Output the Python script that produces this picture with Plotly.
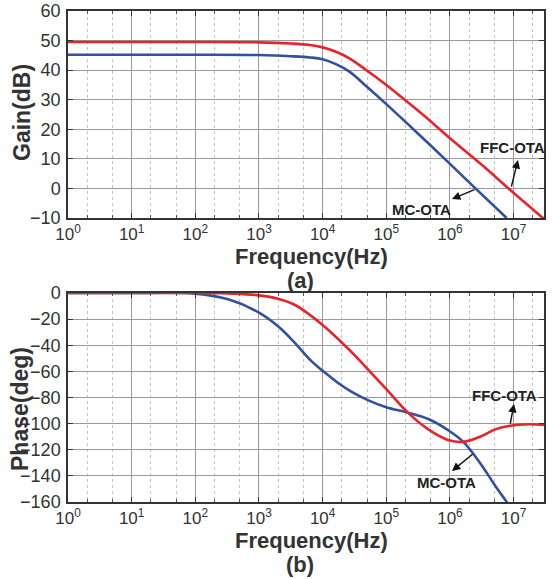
import plotly.graph_objects as go
from plotly.subplots import make_subplots

# ---- data (log10 frequency) ----
gain_mc_logf = [0, 1, 2, 3, 3.5, 3.8, 4.0, 4.2, 4.42, 4.7, 5.0, 5.5, 6.0, 6.4, 6.89]
gain_mc_db = [45.2, 45.2, 45.2, 45.1, 44.7, 44.3, 43.7, 42.1, 39.5, 34.3, 28.5, 18.5, 8.3, 0.0, -10.0]

gain_ffc_logf = [0, 1, 2, 3, 3.5, 3.8, 4.0, 4.2, 4.42, 4.7, 5.0, 5.29, 5.6, 6.0, 6.5, 6.92, 7.477]
gain_ffc_db = [49.5, 49.5, 49.5, 49.4, 49.0, 48.5, 47.7, 46.3, 44.0, 39.8, 35.0, 30.0, 24.5, 17.0, 8.0, 0.0, -10.3]

phase_mc_logf = [0, 1, 2, 2.53, 3.0, 3.3, 3.56, 3.82, 4.0, 4.26, 4.45, 4.71, 5.0, 5.34, 5.66,
                 5.97, 6.21, 6.5, 6.71, 6.9]
phase_mc_deg = [0, 0, -0.5, -5, -15, -25.5, -38, -52, -59.5, -69.5, -75.5, -82, -87.5, -91.6, -96.5,
                -105, -114, -132, -147.6, -160.5]

phase_ffc_logf = [0, 1, 2, 2.6, 3.0, 3.3, 3.56, 3.82, 4.0, 4.26, 4.57, 4.71, 5.0, 5.34, 5.66,
                  5.97, 6.21, 6.5, 6.71, 6.92, 7.24, 7.477]
phase_ffc_deg = [0, 0, 0, -0.5, -1.8, -4.4, -9, -17.5, -24.5, -36, -51, -58.5, -73.5, -91.6, -104.4,
                 -112.5, -114, -109.5, -104.4, -101.8, -100.5, -101]

tick_exps = [0, 1, 2, 3, 4, 5, 6, 7]
gain_ticks = [-10, 0, 10, 20, 30, 40, 50, 60]
phase_ticks = [0, -20, -40, -60, -80, -100, -120, -140, -160]

RED = "#E8232A"
BLUE = "#3050A0"
FONT = "Arial, Liberation Sans, sans-serif"

W, H = 552, 579
PLOT_L, PLOT_R = 68, 544  # pixels of the plot area
ML = PLOT_L
MR = W - PLOT_R

def px_x(p):
    return (p - PLOT_L) / (PLOT_R - PLOT_L)

def px_y(p):
    return 1 - p / H

fig = make_subplots(rows=2, cols=1, vertical_spacing=0.1)

fig.add_trace(go.Scatter(x=[10 ** v for v in gain_ffc_logf], y=gain_ffc_db, mode="lines",
                         line=dict(color=RED, width=2.6, shape="spline", smoothing=1.0),
                         showlegend=False), row=1, col=1)
fig.add_trace(go.Scatter(x=[10 ** v for v in gain_mc_logf], y=gain_mc_db, mode="lines",
                         line=dict(color=BLUE, width=2.6, shape="spline", smoothing=1.0),
                         showlegend=False), row=1, col=1)
fig.add_trace(go.Scatter(x=[10 ** v for v in phase_mc_logf], y=phase_mc_deg, mode="lines",
                         line=dict(color=BLUE, width=2.6, shape="spline", smoothing=1.0),
                         showlegend=False), row=2, col=1)
fig.add_trace(go.Scatter(x=[10 ** v for v in phase_ffc_logf], y=phase_ffc_deg, mode="lines",
                         line=dict(color=RED, width=2.6, shape="spline", smoothing=1.0),
                         showlegend=False), row=2, col=1)

xaxis_common = dict(
    type="log", range=[0, 7.477],
    tickvals=[10 ** e for e in tick_exps],
    ticktext=[f"10<sup>{e}</sup>" for e in tick_exps],
    tickfont=dict(family=FONT, size=17, color="#333333"),
    showgrid=True, gridcolor="#9a9a9a", gridwidth=1,
    ticks="inside", ticklen=5, tickcolor="#333333",
    showline=True, linecolor="#333333", linewidth=1.5, mirror="ticks",
    minor=dict(showgrid=True, gridcolor="#c4c4c4", griddash="dot", gridwidth=1,
               ticks="inside", ticklen=3, tickcolor="#555555"),
    zeroline=False, automargin=False, ticklabeloverflow="allow",
)

fig.update_xaxes(**xaxis_common)
fig.update_xaxes(domain=[0, 1])
fig.update_yaxes(
    tickfont=dict(family=FONT, size=18, color="#333333"),
    showgrid=True, gridcolor="#9a9a9a", gridwidth=1,
    ticks="inside", ticklen=5, tickcolor="#333333",
    showline=True, linecolor="#333333", linewidth=1.5, mirror="ticks",
    zeroline=False, ticklabelstandoff=2, automargin=False, ticklabeloverflow="allow",
)
fig.update_yaxes(range=[-10, 60], tickvals=gain_ticks, domain=[px_y(218), px_y(11)], row=1, col=1)
fig.update_yaxes(range=[-160, 0], tickvals=phase_ticks, domain=[px_y(502), px_y(293)], row=2, col=1)

ann = []

def text_ann(x, y, text, font, angle=0):
    return dict(x=px_x(x), y=px_y(y), xref="paper", yref="paper", text=text, textangle=angle,
                xanchor="center", yanchor="middle", showarrow=False, font=font)

title_font = dict(family=FONT, size=23, color="#333333")
xt_font = dict(family=FONT, size=22, color="#333333")
ann.append(text_ann(22, 113, "<b>Gain(dB)</b>", title_font, -90))
ann.append(text_ann(20, 409, "<b>Phase(deg)</b>", title_font, -90))
ann.append(text_ann(311, 256, "<b>Frequency(Hz)</b>", xt_font))
ann.append(text_ann(311, 540, "<b>Frequency(Hz)</b>", xt_font))
ann.append(text_ann(300, 280, "<b>(a)</b>", xt_font))
ann.append(text_ann(300, 564, "<b>(b)</b>", xt_font))

lab_font = dict(family=FONT, size=15, color="#222222")
ann.append(text_ann(512, 147, "<b>FFC-OTA</b>", lab_font))
ann.append(text_ann(421, 210, "<b>MC-OTA</b>", lab_font))
ann.append(text_ann(504, 395, "<b>FFC-OTA</b>", lab_font))
ann.append(text_ann(446, 482, "<b>MC-OTA</b>", lab_font))

# arrows (head near label, tail on curve)
def arrow(hx, hy, tx, ty):
    return dict(x=px_x(hx), y=px_y(hy), ax=tx - hx, ay=ty - hy, xref="paper", yref="paper",
                axref="pixel", ayref="pixel", text="", showarrow=True, arrowhead=2,
                arrowsize=1.2, arrowwidth=1.4, arrowcolor="#111111")

ann.append(arrow(518, 160, 511, 188))
ann.append(arrow(452, 199, 476, 189))
ann.append(arrow(514, 404, 510, 425))
ann.append(arrow(452, 471, 474, 453))

fig.update_layout(
    width=W, height=H, margin=dict(l=ML, r=MR, t=0, b=0, autoexpand=False),
    plot_bgcolor="white", paper_bgcolor="white",
    annotations=ann,
    font=dict(family=FONT),
)

fig.write_html("out.html", config={"displayModeBar": False},
               post_script="document.body.style.margin='0';")
